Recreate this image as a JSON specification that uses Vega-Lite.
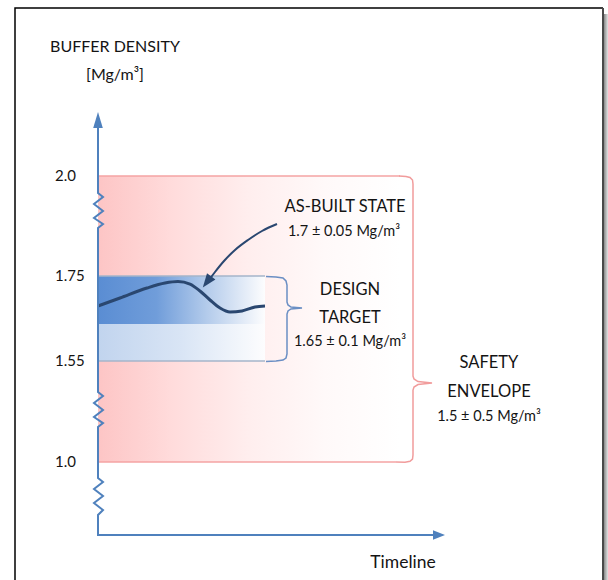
{
  "$schema": "https://vega.github.io/schema/vega-lite/v6.json",
  "width": 608,
  "height": 580,
  "padding": 0,
  "autosize": {"type": "none"},
  "background": "white",
  "config": {"view": {"stroke": null}, "text": {"font": "Lato", "color": "#141414"}},
  "datasets": {
    "safetyBand": [{"x": 98, "x2": 400, "y": 2.0, "y2": 1.0}],
    "safetyEdges": [{"x": 98, "x2": 400, "y": 2.0}, {"x": 98, "x2": 396, "y": 1.0}],
    "safetyBrace": [
      {"x": 399, "y": 2.0, "o": 1}, {"x": 406, "y": 1.99875, "o": 2}, {"x": 410, "y": 1.99625, "o": 3},
      {"x": 412.5, "y": 1.99, "o": 4}, {"x": 413, "y": 1.98, "o": 5}, {"x": 413, "y": 1.468, "o": 6},
      {"x": 414, "y": 1.452, "o": 7}, {"x": 418, "y": 1.438, "o": 8}, {"x": 432, "y": 1.43, "o": 9},
      {"x": 418, "y": 1.422, "o": 10}, {"x": 414, "y": 1.408, "o": 11}, {"x": 413, "y": 1.392, "o": 12},
      {"x": 413, "y": 1.038, "o": 13}, {"x": 412.5, "y": 1.016, "o": 14}, {"x": 410, "y": 1.004, "o": 15},
      {"x": 405, "y": 0.999, "o": 16}, {"x": 396, "y": 1.0, "o": 17}
    ],
    "designLower": [{"x": 98, "x2": 265, "y": 1.65, "y2": 1.55}],
    "designUpper": [{"x": 98, "x2": 265, "y": 1.75, "y2": 1.65}],
    "designEdges": [{"x": 98, "x2": 265, "y": 1.75}, {"x": 98, "x2": 265, "y": 1.55}],
    "designBrace": [
      {"x": 266, "y": 1.749, "o": 1}, {"x": 276, "y": 1.7479, "o": 2}, {"x": 283, "y": 1.7458, "o": 3},
      {"x": 286, "y": 1.7396, "o": 4}, {"x": 287, "y": 1.7313, "o": 5}, {"x": 287, "y": 1.6958, "o": 6},
      {"x": 288, "y": 1.6896, "o": 7}, {"x": 291, "y": 1.6854, "o": 8}, {"x": 302, "y": 1.6833, "o": 9},
      {"x": 291, "y": 1.6813, "o": 10}, {"x": 288, "y": 1.6771, "o": 11}, {"x": 287, "y": 1.6708, "o": 12},
      {"x": 287, "y": 1.5689, "o": 13}, {"x": 286, "y": 1.5581, "o": 14}, {"x": 283, "y": 1.5527, "o": 15},
      {"x": 276, "y": 1.55, "o": 16}, {"x": 266, "y": 1.5473, "o": 17}
    ],
    "asBuilt": [
      {"x": 98, "y": 1.6875}, {"x": 120, "y": 1.7042}, {"x": 147, "y": 1.725}, {"x": 165, "y": 1.7354},
      {"x": 178, "y": 1.7385}, {"x": 190, "y": 1.7333}, {"x": 200, "y": 1.7188}, {"x": 210, "y": 1.7},
      {"x": 220, "y": 1.6833}, {"x": 230, "y": 1.675}, {"x": 242, "y": 1.6771}, {"x": 255, "y": 1.6854},
      {"x": 265, "y": 1.6875}
    ],
    "pointer": [
      {"x": 277, "y": 1.88, "o": 1}, {"x": 262, "y": 1.8625, "o": 2}, {"x": 248, "y": 1.84, "o": 3},
      {"x": 235, "y": 1.815, "o": 4}, {"x": 224, "y": 1.7875, "o": 5}, {"x": 215, "y": 1.76, "o": 6},
      {"x": 209, "y": 1.7417, "o": 7}
    ],
    "pointerHead": [{"x": 207, "y": 1.7375}],
    "axisPath": [
      {"x": 98, "y": 2.145, "o": 1}, {"x": 98, "y": 1.9575, "o": 2}, {"x": 103, "y": 1.9475, "o": 3},
      {"x": 94, "y": 1.93, "o": 4}, {"x": 103, "y": 1.9125, "o": 5}, {"x": 94, "y": 1.895, "o": 6},
      {"x": 103, "y": 1.88, "o": 7}, {"x": 98, "y": 1.87, "o": 8}, {"x": 98, "y": 1.381, "o": 9},
      {"x": 103, "y": 1.359, "o": 10}, {"x": 94, "y": 1.321, "o": 11}, {"x": 103, "y": 1.283, "o": 12},
      {"x": 94, "y": 1.245, "o": 13}, {"x": 103, "y": 1.212, "o": 14}, {"x": 98, "y": 1.191, "o": 15},
      {"x": 98, "y": 0.92, "o": 16}, {"x": 103, "y": 0.9, "o": 17}, {"x": 94, "y": 0.865, "o": 18},
      {"x": 103, "y": 0.83, "o": 19}, {"x": 94, "y": 0.795, "o": 20}, {"x": 103, "y": 0.76, "o": 21},
      {"x": 98, "y": 0.735, "o": 22}, {"x": 98, "y": 0.635, "o": 23}, {"x": 436, "y": 0.635, "o": 24}
    ],
    "yArrow": [{"x": 98, "y": 2.14}],
    "xArrow": [{"x": 439, "y": 0.635}],
    "frame": [
      {"x": 15, "y": 0.39, "o": 1}, {"x": 15, "y": 2.42, "o": 2}, {"x": 603, "y": 2.42, "o": 3}
    ],
    "frameRight": [{"x": 603, "y": 2.42, "y2": 0.39}],
    "shadow": [{"x": 604, "x2": 608, "y": 2.405, "y2": 0.39}],
    "tickLabels": [
      {"x": 55, "y": 2.0, "t": "2.0"}, {"x": 55, "y": 1.75, "t": "1.75"},
      {"x": 55, "y": 1.55, "t": "1.55"}, {"x": 55, "y": 1.0, "t": "1.0"}
    ],
    "axisTitle": [
      {"x": 115, "y": 2.3225, "t": "BUFFER DENSITY"}, {"x": 115, "y": 2.2525, "t": "[Mg/m³]"}
    ],
    "headings": [
      {"x": 345, "y": 1.9225, "t": "AS-BUILT STATE"},
      {"x": 350, "y": 1.7208, "t": "DESIGN"}, {"x": 350, "y": 1.6625, "t": "TARGET"},
      {"x": 489, "y": 1.5391, "t": "SAFETY"}, {"x": 489, "y": 1.3812, "t": "ENVELOPE"}
    ],
    "values": [
      {"x": 344, "y": 1.86, "t": "1.7 ± 0.05 Mg/m³"},
      {"x": 350, "y": 1.6014, "t": "1.65 ± 0.1 Mg/m³"},
      {"x": 489, "y": 1.245, "t": "1.5 ± 0.5 Mg/m³"}
    ],
    "xTitle": [{"x": 403, "y": 0.495, "t": "Timeline"}]
  },
  "encoding": {
    "x": {"field": "x", "type": "quantitative", "scale": {"domain": [0, 608], "nice": false, "zero": false}, "axis": null},
    "y": {"field": "y", "type": "quantitative", "scale": {"domain": [0.41, 1.0, 1.55, 1.65, 1.75, 2.0, 2.44], "range": [580, 462, 361, 324, 276, 176, 0], "nice": false, "zero": false}, "axis": null}
  },
  "layer": [
    {
      "data": {"name": "safetyBand"},
      "mark": {"type": "rect", "fill": {"gradient": "linear", "x1": 0, "y1": 0, "x2": 1, "y2": 0, "stops": [{"offset": 0, "color": "#fdc5c5"}, {"offset": 0.25, "color": "#ffdcdc"}, {"offset": 0.5, "color": "#ffeeee"}, {"offset": 0.75, "color": "#fff9f9"}, {"offset": 1, "color": "#ffffff"}]}},
      "encoding": {"x2": {"field": "x2"}, "y2": {"field": "y2"}}
    },
    {
      "data": {"name": "safetyEdges"},
      "mark": {"type": "rule", "color": "#f4a3a3", "strokeWidth": 1.5},
      "encoding": {"x2": {"field": "x2"}}
    },
    {
      "data": {"name": "safetyBrace"},
      "mark": {"type": "line", "color": "#f19c9c", "strokeWidth": 1.5},
      "encoding": {"order": {"field": "o", "type": "quantitative"}}
    },
    {
      "data": {"name": "designLower"},
      "mark": {"type": "rect", "fill": {"gradient": "linear", "x1": 0, "y1": 0, "x2": 1, "y2": 0, "stops": [{"offset": 0, "color": "#c1d4ee"}, {"offset": 0.5, "color": "#d9e5f5"}, {"offset": 1, "color": "#fdfdfe"}]}},
      "encoding": {"x2": {"field": "x2"}, "y2": {"field": "y2"}}
    },
    {
      "data": {"name": "designUpper"},
      "mark": {"type": "rect", "fill": {"gradient": "linear", "x1": 0, "y1": 0, "x2": 1, "y2": 0, "stops": [{"offset": 0, "color": "#5a8dd3"}, {"offset": 0.35, "color": "#709dda"}, {"offset": 0.65, "color": "#b3cbeb"}, {"offset": 1, "color": "#fdfdfe"}]}},
      "encoding": {"x2": {"field": "x2"}, "y2": {"field": "y2"}}
    },
    {
      "data": {"name": "designEdges"},
      "mark": {"type": "rule", "color": "#a5b5ca", "strokeWidth": 1.5},
      "encoding": {"x2": {"field": "x2"}}
    },
    {
      "data": {"name": "designBrace"},
      "mark": {"type": "line", "color": "#6b8fc4", "strokeWidth": 1.5},
      "encoding": {"order": {"field": "o", "type": "quantitative"}}
    },
    {
      "data": {"name": "asBuilt"},
      "mark": {"type": "line", "color": "#2a4770", "strokeWidth": 3, "interpolate": "monotone"},
      "encoding": {}
    },
    {
      "data": {"name": "pointer"},
      "mark": {"type": "line", "color": "#2a4770", "strokeWidth": 2, "interpolate": "monotone"},
      "encoding": {"order": {"field": "o", "type": "quantitative"}}
    },
    {
      "data": {"name": "pointerHead"},
      "mark": {"type": "point", "shape": "M0,-1L0.75,1L-0.75,1Z", "size": 196, "angle": 217, "filled": true, "opacity": 1, "color": "#2a4770", "strokeWidth": 0}
    },
    {
      "data": {"name": "axisPath"},
      "mark": {"type": "line", "color": "#4f81bd", "strokeWidth": 2},
      "encoding": {"order": {"field": "o", "type": "quantitative"}}
    },
    {
      "data": {"name": "yArrow"},
      "mark": {"type": "point", "shape": "M0,-1L0.6,1L-0.6,1Z", "size": 256, "filled": true, "opacity": 1, "color": "#4f81bd", "strokeWidth": 0}
    },
    {
      "data": {"name": "xArrow"},
      "mark": {"type": "point", "shape": "M1,0L-1,-0.8L-1,0.8Z", "size": 144, "filled": true, "opacity": 1, "color": "#4f81bd", "strokeWidth": 0}
    },
    {
      "data": {"name": "frame"},
      "mark": {"type": "line", "color": "#000000", "strokeWidth": 1.5},
      "encoding": {"order": {"field": "o", "type": "quantitative"}}
    },
    {
      "data": {"name": "shadow"},
      "mark": {"type": "rect", "fill": {"gradient": "linear", "x1": 0, "y1": 0, "x2": 1, "y2": 0, "stops": [{"offset": 0, "color": "#8a8a8a"}, {"offset": 1, "color": "#e4e4e4"}]}},
      "encoding": {"x2": {"field": "x2"}, "y2": {"field": "y2"}}
    },
    {
      "data": {"name": "frameRight"},
      "mark": {"type": "rule", "color": "#4a4a4a", "strokeWidth": 2},
      "encoding": {"y2": {"field": "y2"}}
    },
    {
      "data": {"name": "tickLabels"},
      "mark": {"type": "text", "fontSize": 15, "align": "left", "baseline": "middle"},
      "encoding": {"text": {"field": "t"}}
    },
    {
      "data": {"name": "axisTitle"},
      "mark": {"type": "text", "fontSize": 16, "align": "center", "baseline": "middle"},
      "encoding": {"text": {"field": "t"}}
    },
    {
      "data": {"name": "headings"},
      "mark": {"type": "text", "fontSize": 16.5, "align": "center", "baseline": "middle"},
      "encoding": {"text": {"field": "t"}}
    },
    {
      "data": {"name": "values"},
      "mark": {"type": "text", "fontSize": 14.5, "align": "center", "baseline": "middle"},
      "encoding": {"text": {"field": "t"}}
    },
    {
      "data": {"name": "xTitle"},
      "mark": {"type": "text", "fontSize": 17.5, "align": "center", "baseline": "middle"},
      "encoding": {"text": {"field": "t"}}
    }
  ]
}
